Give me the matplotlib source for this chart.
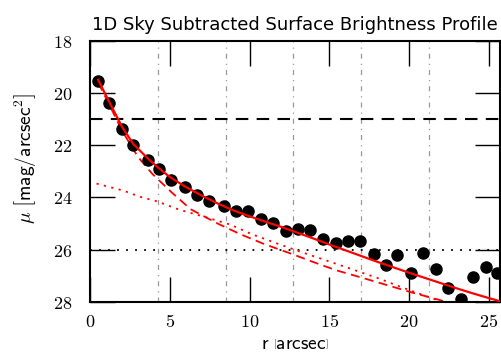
'''Surface brightness profile with bulge + disk model components.'''

import matplotlib
matplotlib.use("Agg")
import matplotlib.pyplot as plt

plt.rcParams['mathtext.fontset'] = 'cm'
plt.rcParams['font.family'] = ['DejaVu Sans']

# Measured profile (radius in arcsec, surface brightness in mag/arcsec^2)
r_data = [0.52, 1.19, 2.02, 2.71, 3.65, 4.31, 5.06, 5.94, 6.67, 7.46, 8.38,
          9.13, 9.90, 10.69, 11.46, 12.29, 13.02, 13.79, 14.63, 15.42, 16.19,
          16.92, 17.81, 18.54, 19.27, 20.10, 20.90, 21.67, 22.46, 23.23, 24.00,
          24.83, 25.50]
mu_data = [19.56, 20.39, 21.38, 21.98, 22.55, 22.91, 23.32, 23.61, 23.89, 24.15,
           24.34, 24.50, 24.53, 24.84, 24.97, 25.29, 25.20, 25.26, 25.58, 25.73,
           25.67, 25.67, 26.18, 26.60, 26.22, 26.90, 26.11, 26.72, 27.45, 27.87,
           27.03, 26.65, 26.90]

# Total model fit
r_total = [0.5, 1.2, 2.0, 2.7, 3.6, 4.3, 5.0, 6.0, 7.0, 8.0, 9.0, 10.0, 11.0,
           12.0, 13.0, 14.0, 15.0, 16.0, 17.0, 18.0, 19.0, 20.0, 21.0, 22.0,
           23.0, 24.0, 25.0, 25.7]
mu_total = [19.5, 20.35, 21.3, 21.95, 22.5, 22.88, 23.22, 23.6, 23.93, 24.23,
            24.5, 24.72, 24.93, 25.13, 25.35, 25.57, 25.8, 26.02, 26.24, 26.46,
            26.67, 26.88, 27.08, 27.28, 27.48, 27.67, 27.85, 27.97]

# Bulge component
r_bulge = [0.5, 1.2, 2.0, 3.0, 3.9, 5.1, 6.3, 8.0, 9.4, 10.9, 12.6, 13.9, 15.4,
           17.1, 18.6, 20.2, 21.9, 22.6]
mu_bulge = [19.6, 20.45, 21.45, 22.45, 23.1, 23.8, 24.45, 25.0, 25.4, 25.78,
            26.15, 26.45, 26.78, 27.08, 27.35, 27.64, 27.92, 28.05]

# Disk component
r_disk = [0.4, 2.1, 3.1, 4.2, 5.6, 7.1, 8.75, 10.2, 11.9, 13.3, 15.0, 16.3,
          18.1, 19.6, 21.4, 22.6]
mu_disk = [23.47, 23.74, 23.97, 24.15, 24.47, 24.73, 25.03, 25.42, 25.8, 26.1,
           26.45, 26.72, 27.1, 27.45, 27.85, 28.1]

# Reference levels and grid
mu_limit = 21.0
mu_sky = 26.0
grid_r = [4.25, 8.5, 12.75, 17.0, 21.25]

xticks = [0, 5, 10, 15, 20, 25]
yticks = [18, 20, 22, 24, 26, 28]

fig = plt.figure(figsize=(5.01, 3.63), dpi=100)
ax = fig.add_axes([0.18, 0.168, 0.818, 0.72])

for g in grid_r:
    ax.axvline(g, color='#999999', lw=0.9, linestyle=(0, (4, 4, 1, 4)))
ax.axhline(mu_limit, color='black', lw=1.5, linestyle=(0, (6, 4)))
ax.axhline(mu_sky, color='black', lw=1.3, linestyle=(0, (1, 4)))

ax.plot(r_data, mu_data, 'o', color='black', markersize=8, zorder=3)
ax.plot(r_total, mu_total, color='red', lw=1.6, zorder=4)
ax.plot(r_bulge, mu_bulge, color='red', lw=1.3, linestyle=(0, (5, 3)), zorder=2)
ax.plot(r_disk, mu_disk, color='red', lw=1.3, linestyle=(0, (1.2, 3)), zorder=2)

ax.set_xlim(0, 25.7)
ax.set_ylim(28, 18)
ax.set_xticks(xticks)
ax.set_xticklabels([f'${t}$' for t in xticks], fontsize=13)
ax.set_yticks(yticks)
ax.set_yticklabels([f'${t}$' for t in yticks], fontsize=13)
ax.tick_params(direction='in', length=18, width=1, top=True, right=True)
ax.tick_params(axis='x', pad=8)
ax.tick_params(axis='y', pad=13)
for s in ax.spines.values():
    s.set_linewidth(1.5)

ax.set_title('1D Sky Subtracted Surface Brightness Profile', fontsize=13, pad=8)
ax.set_xlabel(r'$\mathsf{r}\ \left[\mathsf{arcsec}\right]$', fontsize=14, labelpad=2)
ax.set_ylabel(r'$\mu\ \left[\mathsf{mag/arcsec^2}\right]$', fontsize=14)
ax.yaxis.set_label_coords(-0.125, 0.55)

plt.savefig('out.png', dpi=100)
